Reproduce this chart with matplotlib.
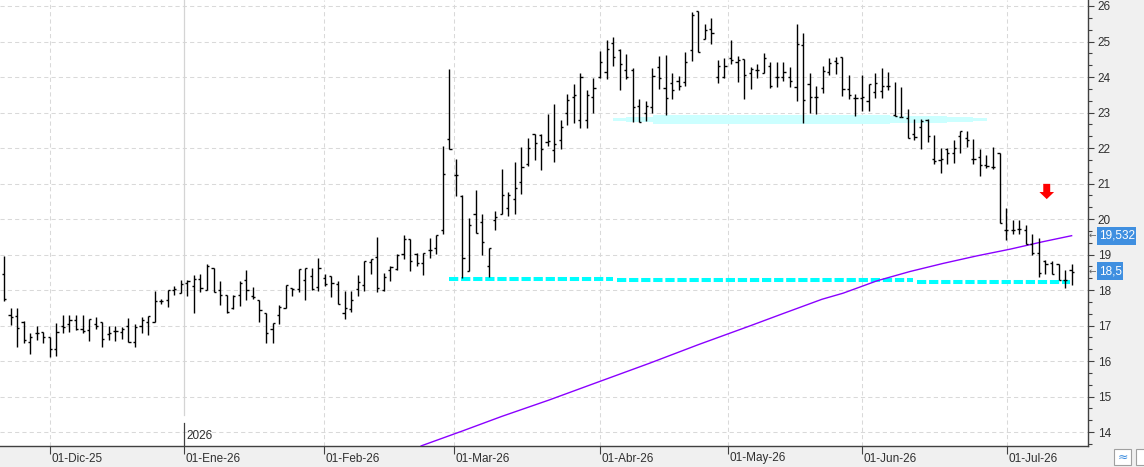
import numpy as np
import matplotlib
matplotlib.use("Agg")
import matplotlib.pyplot as plt
from matplotlib.collections import LineCollection
from matplotlib.patches import Polygon, Rectangle

plt.rcParams['font.family'] = ['Liberation Sans', 'DejaVu Sans']

# ── Datos OHLC diarios (20-nov-25 .. 15-jul-26) ──────────────────
aperturas = [
    18.46, 17.29, 17.26, 17.10, 16.54, 16.80, 16.82, 16.68, 16.33, 17.00,
    17.03, 17.15, 16.90, 16.87, 17.03, 17.10, 16.75, 16.84, 16.82, 16.98,
    16.54, 17.00, 17.10, 17.10, 17.69, 17.71, 17.99, 17.92, 18.20, 18.10,
    18.32, 18.00, 18.62, 18.00, 17.87, 17.48, 17.87, 18.28, 17.83, 17.71,
    17.34, 16.90, 17.31, 17.50, 18.06, 18.03, 18.29, 18.39, 18.09, 18.34,
    18.39, 18.17, 17.35, 17.47, 18.03, 18.15, 18.79, 18.93, 18.01, 18.55,
    18.58, 19.02, 19.45, 19.02, 18.76, 19.14, 19.17, 19.70, 22.26, 21.24,
    20.66, 18.53, 20.13, 19.92, 18.67, 19.96, 20.15, 20.32, 20.57, 21.04,
    21.54, 22.40, 22.38, 22.18, 21.95, 22.23, 23.00, 23.45, 22.78, 22.78,
    23.45, 24.00, 24.13, 24.95, 24.76, 24.20, 24.20, 23.19, 23.00, 23.15,
    24.28, 23.69, 23.83, 23.90, 23.85, 24.77, 25.85, 25.07, 25.36, 24.00,
    24.00, 24.53, 24.41, 24.50, 24.10, 24.20, 24.10, 24.31, 24.00, 24.00,
    24.00, 23.71, 24.90, 23.80, 23.45, 23.68, 24.15, 24.46, 24.56, 23.65,
    23.40, 23.40, 23.31, 23.59, 23.61, 23.75, 22.93, 22.86, 22.85, 22.39,
    22.60, 22.79, 21.68, 21.66, 21.96, 21.87, 22.34, 22.27, 21.70, 21.75,
    21.52, 21.47, 21.86, 19.70, 19.70, 19.73, 19.70, 19.30, 19.04, 18.81,
    18.76, 18.74, 18.29, 18.55,
]
maximos = [
    18.95, 17.48, 17.48, 17.13, 16.78, 16.98, 16.82, 16.68, 17.06, 17.30,
    17.29, 17.30, 17.30, 17.17, 17.23, 17.10, 17.00, 17.00, 16.96, 17.20,
    17.04, 17.24, 17.27, 17.97, 17.74, 17.99, 18.10, 18.28, 18.28, 18.42,
    18.44, 18.72, 18.62, 18.25, 17.87, 17.87, 18.25, 18.56, 18.09, 17.71,
    17.34, 17.08, 17.59, 18.15, 18.06, 18.58, 18.62, 18.62, 18.89, 18.44,
    18.39, 18.25, 17.98, 17.98, 18.41, 18.83, 18.88, 19.49, 18.48, 18.69,
    19.02, 19.56, 19.45, 19.05, 19.05, 19.47, 19.56, 22.07, 24.22, 21.68,
    20.69, 20.03, 20.83, 20.13, 19.17, 20.22, 21.42, 20.76, 21.61, 22.03,
    22.29, 22.40, 22.40, 22.97, 23.23, 22.78, 23.53, 23.80, 24.12, 23.62,
    23.98, 24.72, 25.03, 25.12, 24.78, 24.65, 24.25, 23.38, 23.33, 24.25,
    24.60, 24.62, 24.10, 24.03, 24.70, 25.82, 25.85, 25.49, 25.66, 24.48,
    24.53, 25.05, 24.58, 24.50, 24.27, 24.36, 24.67, 24.42, 24.42, 24.41,
    24.27, 25.50, 25.23, 24.10, 23.75, 24.31, 24.53, 24.56, 24.56, 24.06,
    23.52, 24.06, 23.80, 24.11, 24.25, 24.15, 23.87, 23.71, 23.09, 22.83,
    22.81, 22.81, 22.36, 21.99, 21.99, 22.22, 22.49, 22.49, 22.24, 21.96,
    21.80, 22.02, 21.86, 20.32, 19.96, 19.96, 19.84, 19.59, 19.47, 18.85,
    18.81, 18.74, 18.57, 18.74,
]
minimos = [
    17.69, 17.01, 16.40, 16.50, 16.20, 16.60, 16.52, 16.12, 16.15, 16.80,
    16.82, 16.87, 16.80, 16.57, 16.89, 16.40, 16.59, 16.57, 16.63, 16.54,
    16.40, 16.80, 16.72, 17.10, 17.60, 17.53, 17.87, 17.92, 17.83, 17.36,
    17.95, 18.00, 17.95, 17.59, 17.34, 17.46, 17.55, 17.71, 17.76, 17.10,
    16.50, 16.50, 17.03, 17.50, 17.83, 17.94, 17.73, 17.99, 17.97, 18.11,
    17.80, 17.61, 17.17, 17.38, 17.83, 17.97, 18.46, 17.94, 17.98, 18.25,
    18.55, 18.88, 18.53, 18.69, 18.42, 18.89, 19.02, 19.58, 21.96, 20.64,
    18.34, 18.53, 19.61, 18.98, 18.36, 19.69, 20.15, 20.08, 20.15, 20.71,
    21.49, 21.65, 21.38, 22.05, 21.60, 21.96, 22.64, 22.70, 22.56, 22.56,
    22.99, 23.97, 23.95, 24.30, 23.62, 23.95, 22.73, 22.73, 22.75, 23.00,
    23.67, 22.92, 23.38, 23.64, 23.76, 24.44, 24.70, 25.07, 24.92, 23.83,
    23.96, 24.37, 23.85, 23.38, 23.66, 23.97, 24.10, 23.69, 23.71, 23.90,
    23.73, 23.31, 22.70, 23.00, 22.96, 23.54, 24.06, 24.09, 23.47, 23.37,
    22.91, 23.05, 23.05, 23.40, 23.40, 23.62, 22.90, 22.86, 22.27, 22.22,
    21.96, 22.16, 21.56, 21.30, 21.56, 21.59, 21.85, 22.03, 21.56, 21.21,
    21.45, 21.42, 19.89, 19.42, 19.59, 19.59, 19.30, 18.99, 18.36, 18.44,
    18.44, 18.27, 18.06, 18.15,
]
cierres = [
    17.75, 17.24, 16.92, 16.60, 16.68, 16.78, 16.68, 16.35, 16.82, 16.96,
    17.15, 16.89, 16.84, 17.17, 17.00, 16.63, 16.80, 16.84, 16.90, 16.54,
    16.96, 17.15, 17.27, 17.69, 17.69, 17.99, 18.04, 18.18, 18.25, 18.32,
    18.06, 18.68, 17.95, 17.85, 17.37, 17.84, 18.21, 17.99, 17.81, 17.43,
    16.78, 17.08, 17.52, 18.14, 18.03, 18.58, 18.62, 18.03, 18.62, 18.17,
    18.20, 17.61, 17.50, 17.71, 18.22, 18.83, 18.86, 18.06, 18.37, 18.65,
    19.00, 19.45, 18.81, 18.76, 19.03, 19.14, 19.56, 21.26, 21.98, 21.24,
    18.91, 19.83, 19.61, 19.36, 19.17, 20.06, 20.67, 20.67, 20.88, 21.46,
    22.01, 22.15, 21.96, 22.20, 22.10, 22.60, 23.34, 23.50, 24.00, 23.50,
    23.70, 24.42, 24.78, 24.55, 24.36, 24.00, 23.15, 22.73, 23.17, 24.04,
    23.97, 23.40, 23.64, 23.76, 24.42, 25.75, 24.70, 25.33, 25.23, 24.30,
    24.30, 24.48, 24.48, 24.06, 24.22, 24.20, 24.53, 23.75, 24.00, 24.15,
    23.90, 24.93, 23.36, 23.45, 23.45, 24.18, 24.39, 24.39, 23.65, 23.49,
    23.40, 23.45, 23.80, 23.82, 23.75, 23.75, 22.90, 22.86, 22.27, 22.30,
    22.75, 22.34, 21.62, 21.68, 21.87, 22.00, 22.49, 22.22, 21.70, 21.52,
    21.49, 21.47, 19.89, 19.70, 19.68, 19.73, 19.30, 19.04, 18.47, 18.74,
    18.44, 18.27, 18.27, 18.50,
]

# media móvil (índice de sesión, valor)
mm_idx = [63.7, 70, 76, 83.2, 90, 98.6, 106, 113.9, 119, 124.9, 128.1,
          133.3, 138.3, 143.4, 148.5, 153.6, 158.6, 163]
mm_val = [13.61, 14.03, 14.44, 14.90, 15.36, 15.94, 16.46, 16.99, 17.34,
          17.74, 17.91, 18.26, 18.52, 18.75, 18.96, 19.15, 19.36, 19.53]

# etiquetas de meses (posición en sesiones)
meses_pos = [7, 27.5, 48.8, 68.7, 91, 110.5, 131, 153.1]
meses_txt = ["01-Dic-25", "01-Ene-26", "01-Feb-26", "01-Mar-26",
             "01-Abr-26", "01-May-26", "01-Jun-26", "01-Jul-26"]
anio_pos, anio_txt = 27.5, "2026"

# soporte discontinuo (tramos: inicio, fin, precio)
soporte = [(67.9, 93.0, 18.30), (93.6, 138.8, 18.27), (139.4, 162.7, 18.23)]

# zona de resistencia (banda clara)
zona_x = [93.0, 95.0, 99.1, 135.3, 144.0, 147.9, 150.1]
zona_semi = [0.042, 0.079, 0.118, 0.094, 0.062, 0.034, 0.034]
zona_centro = 22.80

# flecha roja
flecha_x, flecha_y = 159.2, 20.56

ultimo_mm = "19,532"
ultimo_px = "18,5"

# ── Figura ───────────────────────────────────────────────────────
W, H = 1144, 467
fig = plt.figure(figsize=(W / 100, H / 100), dpi=100, facecolor="#F0F0F0")
ax = fig.add_axes([0, 21 / H, 1088 / W, 446 / H])
ax.set_facecolor("white")
ax.set_xlim(-0.61, 165.5)
ax.set_ylim(13.606, 26.169)

grid_c = "#D9D9D9"
for p in range(14, 27):
    ax.axhline(p, color=grid_c, lw=0.75, ls=(0, (4, 3)), zorder=0)
for pos in meses_pos:
    if pos == anio_pos:
        ax.axvline(pos, ymin=0.07, ymax=1, color="#D4D4D4", lw=0.9, zorder=0)
    else:
        ax.axvline(pos, color=grid_c, lw=0.75, ls=(0, (4, 3)), zorder=0)

# zona de resistencia
zx = np.array(zona_x)
zs = np.array(zona_semi)
ax.fill_between(zx, zona_centro - zs, zona_centro + zs, step="post",
                color="#CCFFFF", lw=0, zorder=1)

# soporte
for x0, x1, p in soporte:
    ax.plot([x0, x1], [p, p], color="#00FFFF", lw=2.9,
            ls=(0, (2.3, 0.7)), solid_capstyle="butt", zorder=2)

# media móvil
ax.plot(mm_idx, mm_val, color="#8A00FF", lw=1.0, zorder=3)

# barras OHLC
segs = []
for i, (o, h, l, c) in enumerate(zip(aperturas, maximos, minimos, cierres)):
    segs.append([(i, l), (i, h)])
    segs.append([(i - 0.33, o), (i, o)])
    segs.append([(i, c), (i + 0.33, c)])
ax.add_collection(LineCollection(segs, colors="black", linewidths=1.0, zorder=4))

# flecha roja
fx, fy = flecha_x, flecha_y
ax.add_patch(Polygon([(fx - 0.53, fy + 0.43), (fx + 0.53, fy + 0.43),
                      (fx + 0.53, fy + 0.20), (fx + 1.12, fy + 0.20),
                      (fx, fy), (fx - 1.12, fy + 0.20), (fx - 0.53, fy + 0.20)],
                     closed=True, color="#FF0000", lw=0, zorder=5))

# ejes
for s in ["left", "top"]:
    ax.spines[s].set_visible(False)
for s in ["right", "bottom"]:
    ax.spines[s].set_color("#404040")
    ax.spines[s].set_linewidth(1.0)

ax.yaxis.tick_right()
ax.set_yticks(range(14, 27))
ax.set_yticks(np.arange(13 + 2 / 3, 26.2, 1 / 3), minor=True)
ax.tick_params(axis="y", which="major", direction="out", length=4, width=0.8,
               color="#404040", labelsize=8.5, labelcolor="#303030", pad=3)
ax.tick_params(axis="y", which="minor", direction="out", length=3, width=0.8,
               color="#404040")
ax.set_xticks(meses_pos)
ax.tick_params(axis="x", direction="out", length=6, width=0.8, color="#404040",
               labelbottom=False)
for pos, txt in zip(meses_pos, meses_txt):
    ax.annotate(txt, xy=(pos, 0), xycoords=("data", "axes fraction"),
                xytext=(1, -9), textcoords="offset points", ha="left",
                va="center", fontsize=8.5, color="#303030", annotation_clip=False)

# marca del año
ax.axvline(anio_pos, ymin=0, ymax=0.052, color="#404040", lw=0.9, zorder=1)
ax.annotate(anio_txt, xy=(anio_pos, 0.022), xycoords=("data", "axes fraction"),
            xytext=(1.5, 0), textcoords="offset points", ha="left", va="center",
            fontsize=8.5, color="#303030")

# etiquetas de último valor
def etiqueta(txt, y_px, ancho):
    y0 = (H - y_px - 9) / H
    fig.patches.append(Rectangle((1096.7 / W, y0), ancho / W, 18 / H,
                                 transform=fig.transFigure, color="#3F8FE0",
                                 lw=0, zorder=5))
    fig.text(1099 / W, (H - y_px) / H, txt, color="white", fontsize=8.5,
             va="center", ha="left", zorder=6)
    fig.text(1089 / W, (H - y_px) / H, "←", color="#606060", fontsize=6.5,
             va="center", ha="left", family="DejaVu Sans", zorder=6)

etiqueta(ultimo_mm, 235.5, 39.3)
etiqueta(ultimo_px, 271, 26.6)

# botones de la esquina
for bx in [1114, 1136]:
    fig.patches.append(Rectangle((bx / W, 2 / H), 17 / W, 16 / H,
                                 transform=fig.transFigure, facecolor="white",
                                 edgecolor="#A0A0A0", lw=0.8))
fig.text(1122.5 / W, 10 / H, "≈", color="#3F8FE0", fontsize=9, ha="center",
         va="center", family="DejaVu Sans")

fig.savefig("out.png", dpi=100)
